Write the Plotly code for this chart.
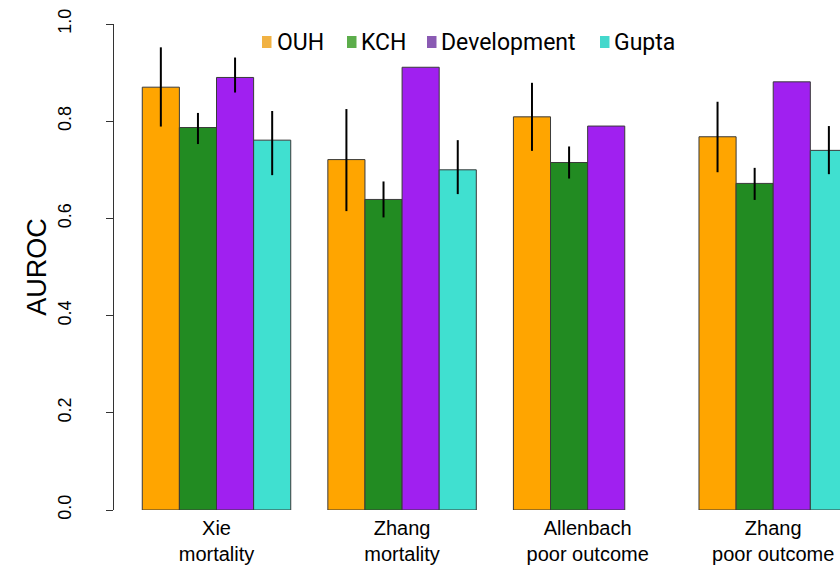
import plotly.graph_objects as go

# ---------------- data ----------------
groups = ["Xie mortality", "Zhang mortality", "Allenbach poor outcome", "Zhang poor outcome"]
tick_labels = ["Xie<br>mortality", "Zhang<br>mortality", "Allenbach<br>poor outcome", "Zhang<br>poor outcome"]

series_names = ["OUH", "KCH", "Development", "Gupta"]

ouh = [0.870, 0.721, 0.809, 0.768]
ouh_hi = [0.952, 0.825, 0.879, 0.840]
ouh_lo = [0.789, 0.615, 0.739, 0.695]

kch = [0.787, 0.639, 0.715, 0.672]
kch_hi = [0.817, 0.676, 0.748, 0.704]
kch_lo = [0.753, 0.602, 0.682, 0.638]

dev = [0.890, 0.911, 0.790, 0.881]
dev_hi = [0.931, None, None, None]
dev_lo = [0.859, None, None, None]

gupta = [0.761, 0.700, None, 0.740]
gupta_hi = [0.821, 0.761, None, 0.790]
gupta_lo = [0.689, 0.650, None, 0.691]

y_ticks = [0.0, 0.2, 0.4, 0.6, 0.8, 1.0]

# ---------------- style ----------------
bar_colors = ["#FFA500", "#228B22", "#A020F0", "#40E0D0"]
legend_colors = ["#F1B243", "#5CAD4B", "#8A5AB3", "#44D8CC"]

W, H = 840, 567
plot_left, plot_right, plot_top, plot_bottom = 114, 840, 24, 510
L, R, T, B = plot_left, W - plot_right, plot_top, H - plot_bottom
pw, ph = plot_right - plot_left, plot_bottom - plot_top


def err_up(v, hi):
    return [(h - x) if (h is not None and x is not None) else 0 for x, h in zip(v, hi)]


def err_down(v, lo):
    return [(x - l) if (l is not None and x is not None) else 0 for x, l in zip(v, lo)]


fig = go.Figure()
all_series = [(ouh, ouh_hi, ouh_lo), (kch, kch_hi, kch_lo), (dev, dev_hi, dev_lo), (gupta, gupta_hi, gupta_lo)]
for name, col, (v, hi, lo) in zip(series_names, bar_colors, all_series):
    fig.add_trace(go.Bar(
        x=groups, y=v, name=name,
        marker=dict(color=col, line=dict(color="#3a3a3a", width=1)),
        error_y=dict(type="data", symmetric=False,
                     array=err_up(v, hi), arrayminus=err_down(v, lo),
                     color="black", thickness=2, width=0),
        showlegend=False,
    ))

# legend drawn as swatches + text (R-style legend inside plot)
leg_sq_x = [262, 347, 427, 600]
leg_txt_x = [275, 359, 439, 612]
leg_y = 42
for name, col, sx, tx in zip(series_names, legend_colors, leg_sq_x, leg_txt_x):
    fig.add_shape(type="rect", xref="paper", yref="paper",
                  x0=(sx - L) / pw, x1=(sx + 9.5 - L) / pw,
                  y0=(plot_bottom - (leg_y - 6)) / ph, y1=(plot_bottom - (leg_y + 6)) / ph,
                  fillcolor=col, line=dict(width=0))
    fig.add_annotation(xref="paper", yref="paper",
                       x=(tx - L) / pw, y=(plot_bottom - leg_y) / ph,
                       xanchor="left", yanchor="middle", showarrow=False,
                       text=name, font=dict(family="Roboto", size=23, color="black"))

fig.update_layout(
    width=W, height=H,
    margin=dict(l=L, r=R, t=T, b=B, pad=0, autoexpand=False),
    paper_bgcolor="white", plot_bgcolor="white",
    barmode="group", bargap=0.2, bargroupgap=0,
    font=dict(family="Liberation Sans, Arial, sans-serif", color="black"),
    showlegend=False,
)

fig.update_xaxes(
    type="category", categoryorder="array", categoryarray=groups,
    range=[-0.5524, 3.3599], automargin=False,
    tickvals=groups, ticktext=tick_labels,
    tickfont=dict(size=20), ticks="", showline=False, showgrid=False, zeroline=False,
    ticklabelstandoff=4,
)
fig.update_yaxes(
    range=[0, 1], tickvals=y_ticks, tickformat=".1f", automargin=False,
    tickangle=-90, tickfont=dict(size=18),
    ticks="outside", ticklen=7, tickcolor="#333", tickwidth=1,
    showline=True, linecolor="#333", linewidth=1,
    showgrid=False, zeroline=False,
    ticklabelstandoff=28,
    title=dict(text="AUROC", font=dict(size=27), standoff=0),
)

fig.write_html(
    "out.html",
    config={"displayModeBar": False},
    post_script="document.body.style.margin='0';document.body.style.overflow='hidden';",
)
